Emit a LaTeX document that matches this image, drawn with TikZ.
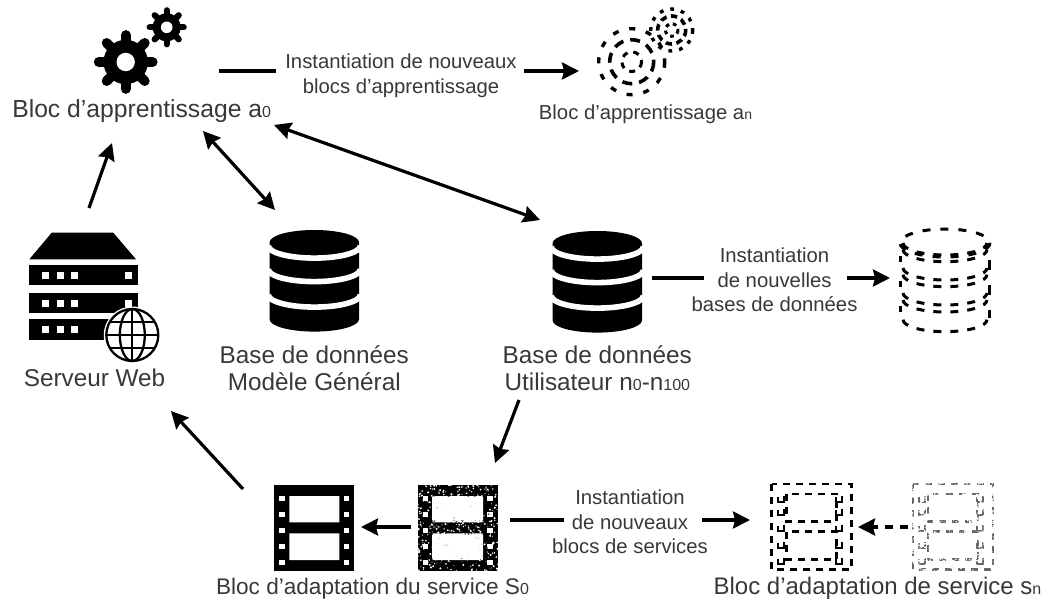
\documentclass[tikz,border=0pt]{standalone}
\usepackage{fontspec}
\setmainfont{Liberation Sans}
\usetikzlibrary{arrows.meta}

\definecolor{labelgray}{gray}{0.22}

\tikzset{
  biglabel/.style={text=labelgray,font=\fontsize{24.3}{27.5}\selectfont,align=center,inner sep=0},
  smalllabel/.style={text=labelgray,font=\fontsize{20.3}{24.5}\selectfont,align=center,inner sep=0},
  flow/.style={line width=3.2pt,-{Stealth[length=17pt,width=17pt,inset=2pt]}},
  both/.style={line width=3.2pt,{Stealth[length=17pt,width=17pt,inset=2pt]}-{Stealth[length=17pt,width=17pt,inset=2pt]}},
  stub/.style={line width=3.6pt},
  dashbar/.style={line width=3pt,dash pattern=on 8pt off 9pt},
}

% Gear: centre, outer radius
\newcommand{\gearicon}[3]{
  \foreach \a in {0,45,...,315}
    \draw[line width=0.31*#3 pt,line cap=round] (#1,#2) -- ++(\a:#3*0.85);
  \fill (#1,#2) circle[radius=#3*0.7];
  \fill[white] (#1,#2) circle[radius=#3*0.29];
}
% Dashed gear: centre, outer, middle radius
\newcommand{\dashgear}[4]{
  \pgfmathsetmacro{\dunit}{#3/33}
  \pgfmathsetmacro{\don}{6*\dunit}
  \pgfmathsetmacro{\doff}{11*\dunit}
  \draw[line width=3.4pt,dash pattern=on \don pt off \doff pt] (#1,#2) circle[radius=#3];
  \pgfmathsetmacro{\don}{10*\dunit}
  \pgfmathsetmacro{\doff}{7*\dunit}
  \draw[line width=3.6pt,dash pattern=on \don pt off \doff pt] (#1,#2) circle[radius=#4];
  \pgfmathsetmacro{\don}{6*\dunit}
  \pgfmathsetmacro{\doff}{6*\dunit}
  \draw[line width=3pt,dash pattern=on \don pt off \doff pt] (#1,#2) circle[radius=#4*0.45];
}
% Stack of disks: centre x, top y
\newcommand{\dbicon}[2]{
  \fill (#1-44.7,#2) arc[start angle=180,end angle=0,x radius=44.7,y radius=-12.3]
    -- ++(0,77) arc[start angle=0,end angle=-180,x radius=44.7,y radius=-12.3] -- cycle;
  \foreach \c in {3.5,27,52.5}
    \draw[white,line width=5.6pt] (#1-46,#2+\c) arc[start angle=180,end angle=360,x radius=46,y radius=-12.3];
}
% Film strip: left x, top y
\newcommand{\filmicon}[2]{
  \fill (#1,#2) rectangle ++(80,85.7);
  \fill[white] (#1+15,#2+11) rectangle ++(50,26.3) (#1+15,#2+48.3) rectangle ++(50,26.7);
  \foreach \y in {13.3,29.3,45.3,61.3,77.7}{
    \fill[white] (#1+5,#2+\y-2.7) rectangle ++(5.4,5.4);
    \fill[white] (#1+69.7,#2+\y-2.7) rectangle ++(5.4,5.4);
  }
}
% Dashed film strip: left x, top y, colour
\newcommand{\dashfilm}[3]{
  \begin{scope}[#3,line width=2.8pt,dash pattern=on 7pt off 6pt]
    \draw (#1,#2) rectangle ++(80,85.3);
    \draw (#1+15,#2+10) rectangle ++(50,27.7) (#1+15,#2+47.7) rectangle ++(50,27.6);
    \foreach \y in {18,31,47,64,80}{
      \draw[solid,line width=2.4pt] (#1+6,#2+\y-5) -- ++(0,5) -- ++(6,0) -- ++(0,-6);
      \draw[solid,line width=2.4pt] (#1+64,#2+\y-5) -- ++(0,5) -- ++(6,0) -- ++(0,-6);
    }
  \end{scope}
}
% Specks over a region: left x, top y, width, height, count, colour
\newcommand{\specks}[6]{
  \foreach \i in {1,...,#5}{
    \pgfmathsetmacro{\px}{#1+#3*rnd}
    \pgfmathsetmacro{\py}{#2+#4*rnd}
    \pgfmathsetmacro{\pr}{0.4+0.8*rnd}
    \fill[#6] (\px,\py) circle[radius=\pr];
  }
}

\begin{document}
\begin{tikzpicture}[x=1pt,y=-1pt]
\useasboundingbox (0,0) rectangle (1056,601);
\pgfmathsetseed{11}

% Gears
\gearicon{125.7}{62}{31.7}
\gearicon{166.7}{27.3}{20}
\dashgear{631.7}{61.7}{33}{22}{0}
\dashgear{671.7}{30}{21}{14}{0}

% Server
\fill (51.7,232.7) -- (113.3,232.7) -- (136,259.3) -- (29.3,259.3) -- cycle;
\foreach \y in {265,292.7,319.3}{
  \fill (28.7,\y) rectangle ++(109,20.5);
  \foreach \x in {42.3,56.7,71}
    \fill[white] (\x,\y+7) rectangle ++(7,7);
  \fill[white] (125,\y+7) rectangle ++(7,7);
}
\fill[white] (132.3,335) circle[radius=28.5];
\begin{scope}[line width=2.3pt]
  \draw (132.3,335) circle[radius=26];
  \draw (132.3,335) ellipse[x radius=12.5,y radius=26];
  \draw (132.3,309) -- (132.3,361);
  \draw (106.3,335) -- (158.3,335);
  \draw (110,322) -- (154.6,322);
  \draw (110,348) -- (154.6,348);
\end{scope}

% Databases
\dbicon{314.3}{242.3}
\dbicon{597.3}{243.3}

% Dashed database
\draw[dashbar,dash pattern=on 8pt off 10pt] (945,243) ellipse[x radius=45,y radius=14];
\foreach \c in {243,249.7,268,274.7,293,300,319.7}
  \draw[dashbar] (903,\c) arc[start angle=180,end angle=360,x radius=42,y radius=-12];
\draw[dashbar,dash pattern=on 10pt off 15pt] (989,260) -- (989,318);
\draw[dashbar,dash pattern=on 6pt off 19pt] (900,256) -- (900,318);

% Film strips
\filmicon{274.3}{485}
\filmicon{417.7}{485}
\specks{417.7}{485}{80.6}{85.7}{430}{white}
\specks{429}{493}{60}{70}{110}{black!70}
\fill[white] (432,497) rectangle (483,520) (432,535) rectangle (483,558);
\specks{428}{494}{60}{68}{18}{black!20}
\dashfilm{771.7}{484}{black}
\dashfilm{913}{484}{black!60}
\specks{909}{480}{88}{93}{1500}{white}

% Anchors for the arrows
\coordinate (gen-start) at (219,71);
\coordinate (gen-stop) at (276,71);
\coordinate (gen-from) at (524,71);
\coordinate (gen-to) at (579,71);
\coordinate (web-out) at (89,208);
\coordinate (bloc-in) at (112,143);
\coordinate (bloc-mod) at (203,131);
\coordinate (mod-bloc) at (275,210);
\coordinate (bloc-usr) at (274,125);
\coordinate (usr-bloc) at (540,220);
\coordinate (bdd-start) at (652,278);
\coordinate (bdd-stop) at (704,278);
\coordinate (bdd-from) at (847,278);
\coordinate (bdd-to) at (890,278);
\coordinate (usr-out) at (519,400);
\coordinate (srv-in) at (495,463);
\coordinate (ada-out) at (243,489);
\coordinate (web-in) at (171,411);
\coordinate (srv-out) at (411,527);
\coordinate (ada-in) at (361,527);
\coordinate (svc-start) at (510,520);
\coordinate (svc-stop) at (564,520);
\coordinate (svc-from) at (702,520);
\coordinate (svc-to) at (750,520);
\coordinate (faded-out) at (908,527);
\coordinate (faded-to) at (858,527);

% Labels
\node[biglabel,font=\fontsize{24.7}{27.5}\selectfont,anchor=base] (bloc0) at (141.7,118) {Bloc d’apprentissage a{\fontsize{16}{16}\selectfont 0}};
\node[smalllabel] (instbloc) at (401,76) {Instantiation de nouveaux\\blocs d’apprentissage};
\node[smalllabel,anchor=base] (blocn) at (645.5,120) {Bloc d’apprentissage a{\fontsize{14}{14}\selectfont n}};
\node[biglabel,anchor=base] (web) at (94.5,386) {Serveur Web};
\node[biglabel] (modele) at (314.3,368) {Base de données\\Modèle Général};
\node[biglabel] (user) at (597.3,368) {Base de données\\Utilisateur n{\fontsize{16}{16}\selectfont 0}-n{\fontsize{16}{16}\selectfont 100}};
\node[smalllabel] (instbase) at (774.5,280) {Instantiation\\de nouvelles\\bases de données};
\node[smalllabel] (instserv) at (630,522) {Instantiation\\de nouveaux\\blocs de services};
\node[biglabel,font=\fontsize{22.6}{27}\selectfont,anchor=base] (adapt0) at (372.5,594) {Bloc d’adaptation du service S{\fontsize{16}{16}\selectfont 0}};
\node[biglabel,font=\fontsize{24}{27}\selectfont,anchor=base] (adaptn) at (877.5,594) {Bloc d’adaptation de service s{\fontsize{16}{16}\selectfont n}};

% Connectors
\draw[stub] (gen-start) -- (gen-stop);
\draw[flow] (gen-from) -- (gen-to);
\draw[flow] (web-out) -- (bloc-in);
\draw[both] (bloc-mod) -- (mod-bloc);
\draw[both] (bloc-usr) -- (usr-bloc);
\draw[stub] (bdd-start) -- (bdd-stop);
\draw[flow] (bdd-from) -- (bdd-to);
\draw[flow] (usr-out) -- (srv-in);
\draw[flow] (ada-out) -- (web-in);
\draw[flow] (srv-out) -- (ada-in);
\draw[stub] (svc-start) -- (svc-stop);
\draw[flow] (svc-from) -- (svc-to);
\draw[flow,dash pattern=on 8pt off 7pt] (faded-out) -- (faded-to);

\end{tikzpicture}
\end{document}
